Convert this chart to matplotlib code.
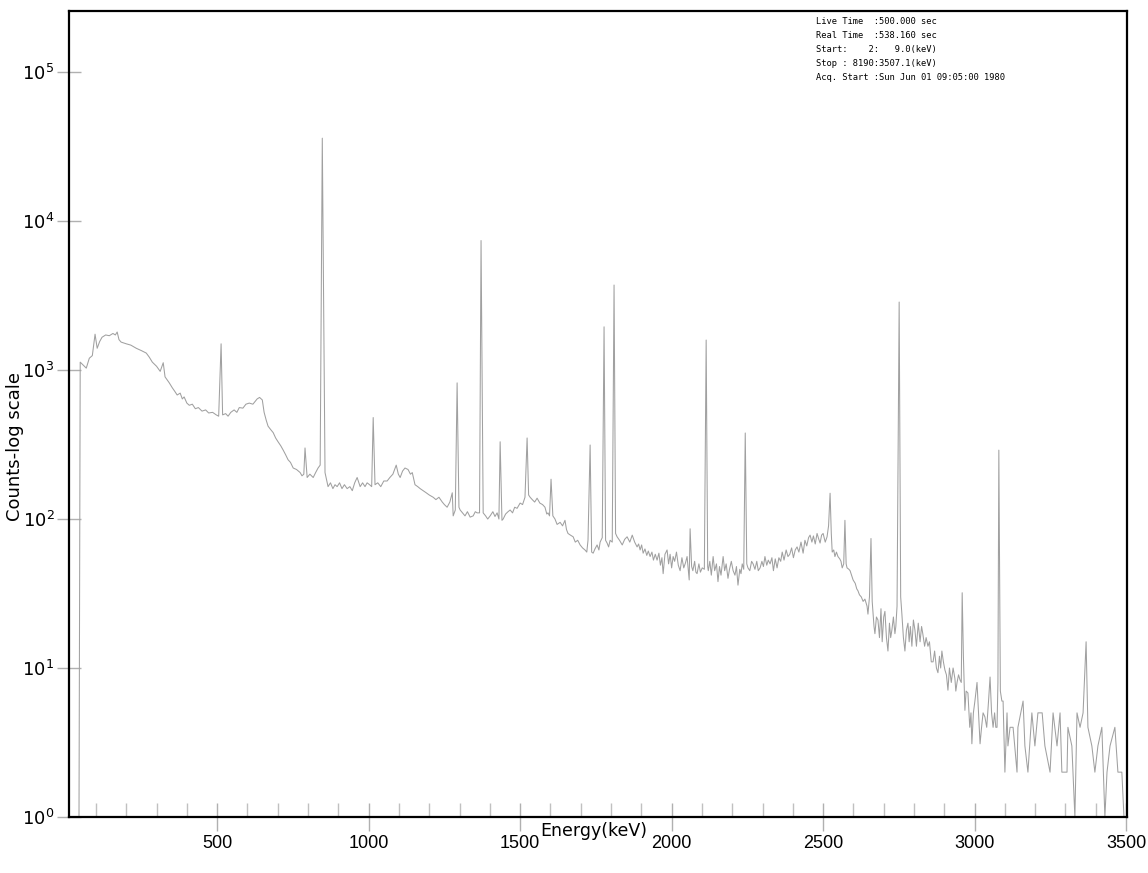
import matplotlib
matplotlib.use("Agg")
import matplotlib.pyplot as plt
from matplotlib.ticker import MultipleLocator, FixedLocator, NullLocator


# spectrum, in pieces: energy in keV, counts per channel
# 40 - 850 keV
energy_low = [44, 48, 58, 68, 78, 88, 97, 104, 112, 120, 132, 144,
              156, 164, 170, 176, 183, 200, 215, 233, 250, 266, 276, 286,
              300, 312, 322, 328, 342, 352, 360, 368, 378, 385, 391, 400,
              408, 418, 428, 438, 450, 462, 472, 485, 497, 505, 513, 518,
              528, 536, 545, 556, 565, 573, 585, 595, 606, 618, 632, 640,
              649, 655, 662, 668, 676, 685, 693, 701, 710, 718, 726, 734,
              742, 751, 762, 774, 780, 786, 790, 797, 806, 817, 825, 833,
              840, 847]
counts_low = [1, 1130, 1080, 1030, 1200, 1250, 1740, 1400, 1550, 1660, 1720, 1700,
              1760, 1720, 1800, 1600, 1540, 1500, 1470, 1400, 1350, 1300, 1220, 1130,
              1060, 980, 1120, 900, 820, 760, 720, 680, 700, 640, 660, 600,
              580, 590, 550, 560, 530, 540, 515, 520, 500, 490, 1500, 500,
              510, 490, 520, 540, 520, 560, 555, 590, 600, 590, 640, 655,
              630, 520, 460, 420, 400, 380, 350, 330, 310, 290, 270, 250,
              240, 220, 215, 205, 195, 200, 300, 190, 200, 190, 205, 220,
              230, 36000]

# 850 - 1900 keV
energy_mid = [856, 862, 866, 874, 882, 889, 896, 904, 912, 920, 929, 938,
              946, 954, 962, 972, 980, 988, 995, 1003, 1010, 1015, 1021, 1030,
              1040, 1050, 1061, 1070, 1080, 1091, 1098, 1104, 1112, 1120, 1130, 1138,
              1144, 1153, 1162, 1170, 1180, 1190, 1200, 1213, 1222, 1232, 1243, 1250,
              1259, 1268, 1276, 1279, 1286, 1292, 1298, 1302, 1310, 1318, 1326, 1335,
              1345, 1352, 1358, 1366, 1371, 1378, 1386, 1393, 1401, 1410, 1417, 1424,
              1430, 1434, 1440, 1444, 1452, 1460, 1467, 1475, 1482, 1490, 1500, 1508,
              1516, 1523, 1528, 1533, 1540, 1548, 1556, 1565, 1574, 1582, 1588, 1592,
              1597, 1602, 1608, 1615, 1622, 1632, 1640, 1648, 1653, 1658, 1666, 1675,
              1682, 1690, 1698, 1706, 1714, 1720, 1724, 1731, 1736, 1741, 1747, 1754,
              1760, 1764, 1771, 1777, 1782, 1787, 1792, 1797, 1804, 1810, 1815, 1820,
              1828, 1837, 1845, 1853, 1862, 1870, 1878, 1886, 1891, 1896]
counts_mid = [205, 180, 165, 175, 160, 170, 165, 175, 160, 170, 160, 165,
              155, 175, 190, 165, 175, 165, 175, 170, 165, 480, 170, 175,
              165, 180, 180, 190, 200, 230, 200, 190, 210, 220, 215, 200,
              205, 170, 165, 160, 155, 150, 145, 140, 135, 140, 130, 125,
              120, 130, 150, 105, 115, 820, 120, 115, 110, 105, 112, 103,
              105, 112, 110, 110, 7400, 110, 105, 100, 105, 112, 104, 110,
              100, 330, 98, 100, 108, 112, 115, 110, 120, 118, 128, 125,
              140, 350, 145, 140, 135, 130, 138, 128, 125, 120, 108, 110,
              105, 185, 105, 100, 92, 95, 90, 98, 85, 80, 78, 76,
              70, 72, 67, 64, 62, 60, 72, 314, 60, 59, 63, 67,
              62, 70, 75, 1950, 72, 69, 65, 72, 70, 3720, 80, 76,
              72, 67, 73, 76, 70, 78, 70, 65, 68, 62]

# 1900 - 2550 keV, the noisy plateau
energy_plateau = [1901, 1906, 1912, 1918, 1923, 1929, 1935, 1940, 1946, 1952, 1958, 1963,
                  1968, 1972, 1978, 1985, 1990, 1995, 2000, 2005, 2010, 2016, 2022, 2028,
                  2034, 2040, 2046, 2051, 2058, 2061, 2066, 2070, 2076, 2080, 2084, 2090,
                  2095, 2101, 2108, 2114, 2119, 2121, 2126, 2131, 2137, 2142, 2148, 2153,
                  2158, 2163, 2170, 2175, 2180, 2186, 2191, 2197, 2203, 2209, 2214, 2219,
                  2225, 2229, 2233, 2238, 2243, 2248, 2252, 2258, 2264, 2269, 2275, 2281,
                  2286, 2292, 2298, 2303, 2308, 2314, 2319, 2325, 2331, 2336, 2342, 2348,
                  2354, 2360, 2365, 2371, 2378, 2384, 2390, 2396, 2402, 2408, 2414, 2420,
                  2427, 2434, 2440, 2446, 2452, 2457, 2463, 2468, 2474, 2480, 2485, 2490,
                  2495, 2500, 2507, 2513, 2518, 2523, 2527, 2530, 2535, 2539, 2544, 2549]
counts_plateau = [67, 59, 63, 57, 61, 56, 60, 53, 58, 53, 59, 49,
                  55, 43, 58, 62, 50, 58, 47, 56, 52, 60, 49, 45,
                  55, 47, 51, 56, 39, 86, 48, 45, 52, 44, 43, 50,
                  44, 47, 46, 1590, 48, 45, 52, 42, 56, 45, 50, 38,
                  48, 42, 56, 45, 50, 40, 46, 52, 45, 42, 48, 36,
                  46, 43, 50, 46, 378, 50, 47, 45, 52, 50, 46, 52,
                  45, 47, 52, 48, 56, 49, 53, 50, 55, 45, 54, 47,
                  55, 52, 60, 53, 62, 56, 58, 64, 55, 62, 65, 60,
                  70, 59, 72, 66, 75, 78, 70, 77, 68, 80, 74, 69,
                  78, 80, 70, 76, 90, 149, 80, 60, 62, 56, 60, 56]

# 2550 - 3500 keV, the falling tail
energy_tail = [2555, 2559, 2563, 2568, 2572, 2576, 2579, 2585, 2589, 2594, 2599, 2606,
               2611, 2615, 2620, 2626, 2632, 2638, 2645, 2648, 2653, 2658, 2662, 2665,
               2668, 2671, 2676, 2681, 2686, 2691, 2695, 2700, 2704, 2709, 2714, 2719,
               2723, 2727, 2732, 2737, 2740, 2744, 2751, 2756, 2760, 2765, 2770, 2775,
               2780, 2784, 2788, 2793, 2798, 2803, 2808, 2814, 2820, 2825, 2829, 2835,
               2840, 2846, 2851, 2857, 2863, 2868, 2874, 2879, 2884, 2888, 2892, 2897,
               2902, 2907, 2912, 2917, 2923, 2929, 2935, 2938, 2942, 2947, 2952, 2956,
               2959, 2963, 2968, 2972, 2978, 2984, 2988, 2991, 2996, 3001, 3008, 3013,
               3018, 3023, 3028, 3034, 3040, 3046, 3051, 3056, 3061, 3066, 3070, 3074,
               3077, 3080, 3085, 3090, 3094, 3100, 3107, 3110, 3117, 3127, 3140, 3143,
               3160, 3166, 3176, 3189, 3199, 3209, 3223, 3232, 3249, 3259, 3272, 3282,
               3288, 3305, 3308, 3321, 3331, 3338, 3348, 3358, 3368, 3374, 3387, 3397,
               3407, 3420, 3430, 3437, 3447, 3463, 3473, 3486, 3493, 3500]
counts_tail = [54, 52, 47, 50, 98, 50, 47, 46, 45, 42, 39, 37,
               34, 33, 31, 30, 28, 29, 26, 23, 30, 74, 28, 23,
               19, 17, 22, 21, 16, 25, 15, 22, 24, 16, 13, 20,
               16, 18, 22, 17, 19, 26, 2860, 30, 23, 16, 13, 18,
               20, 15, 19, 14, 21, 18, 14, 20, 15, 19, 17, 14,
               16, 14, 15, 11, 11, 13, 10, 9.3, 12, 10, 13, 11,
               9.7, 9, 7.1, 10, 8, 10, 8.5, 7, 8, 9, 8.3, 8,
               32, 12, 5.2, 7, 6.8, 4, 5, 3.1, 5, 6, 8, 5,
               3.1, 4, 5, 4.7, 4, 6, 8.7, 5, 4, 5, 4, 4,
               8, 290, 7, 6, 6, 2, 5, 3, 4, 4, 2, 4,
               6, 3, 2, 5, 3, 5, 5, 3, 2, 5, 3, 5,
               2, 2, 4, 3, 1, 5, 4, 5, 15, 4, 3, 2,
               3, 4, 1, 2, 3, 4, 2, 2, 1, 1]

x_ticks = [500, 1000, 1500, 2000, 2500, 3000, 3500]
y_ticks = [1, 10, 100, 1000, 10000, 100000]

info_lines = ["Live Time  :500.000 sec",
              "Real Time  :538.160 sec",
              "Start:    2:   9.0(keV)",
              "Stop : 8190:3507.1(keV)",
              "Acq. Start :Sun Jun 01 09:05:00 1980"]

energy = energy_low + energy_mid + energy_plateau + energy_tail
counts = counts_low + counts_mid + counts_plateau + counts_tail

tick_font = "Liberation Sans"
plt.rcParams['mathtext.fontset'] = 'custom'
plt.rcParams['mathtext.rm'] = tick_font
plt.rcParams['mathtext.it'] = tick_font

fig = plt.figure(figsize=(11.48, 8.73), dpi=100)
ax = fig.add_axes([69 / 1148, 56 / 873, 1058 / 1148, 806 / 873])

ax.plot(energy, counts, color='#a0a0a0', lw=0.75)

ax.set_yscale('log')
ax.set_xlim(11, 3503)
ax.set_ylim(1, 2.57e5)

ax.xaxis.set_major_locator(FixedLocator(x_ticks))
ax.xaxis.set_minor_locator(MultipleLocator(100))
ax.yaxis.set_major_locator(FixedLocator(y_ticks))
ax.yaxis.set_minor_locator(NullLocator())
ax.set_xticklabels([str(v) for v in x_ticks], fontfamily=tick_font, fontsize=13)
ax.set_yticklabels([r'$\mathdefault{10^{%d}}$' % i for i in range(6)], fontsize=13)

ax.tick_params(which='major', direction='inout', length=20, width=1, color='#b0b0b0', pad=3)
ax.tick_params(axis='x', which='minor', direction='in', length=10, width=1, color='#c0c0c0')
ax.tick_params(axis='y', which='major', length=17, pad=2)

for s in ax.spines.values():
    s.set_linewidth(1.6)
    s.set_color('black')

ax.set_xlabel("Energy(keV)", fontsize=12.5)
ax.xaxis.set_label_coords(0.496, -0.006)
ax.set_ylabel("Counts-log scale", fontsize=13)
ax.yaxis.set_label_coords(-0.043, 0.46)

for i, line in enumerate(info_lines):
    fig.text(816 / 1148, 1 - (21 + 14.2 * i) / 873, line, fontsize=6.3,
             family='DejaVu Sans Mono', va='center', ha='left')

fig.savefig("out.png", dpi=100)
